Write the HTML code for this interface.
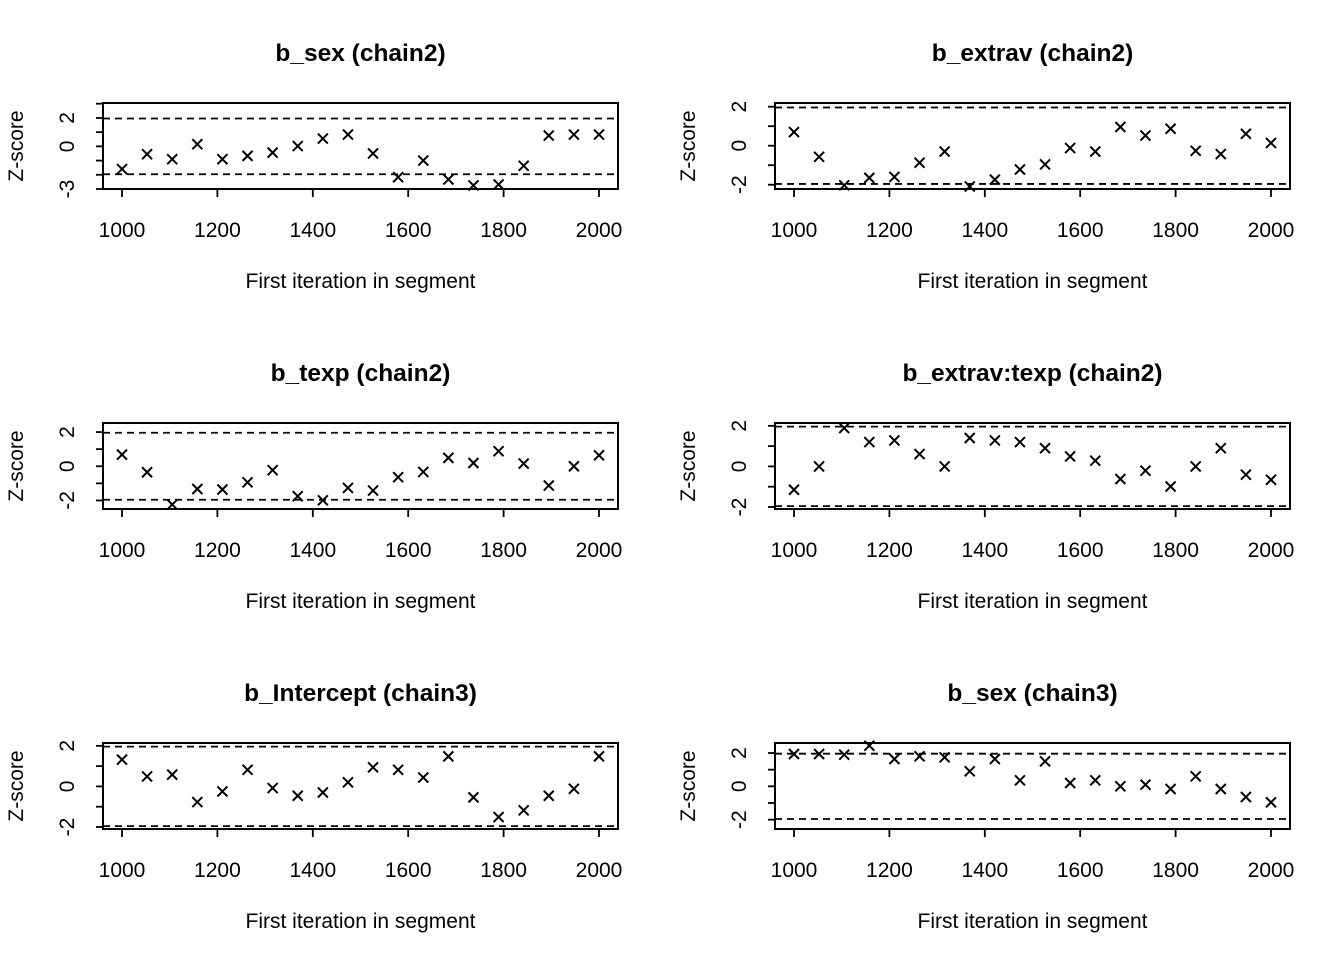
<!DOCTYPE html>
<html><head><meta charset="utf-8"><style>
body{margin:0;background:#fff;}
svg{display:block;font-family:"Liberation Sans",Arial,sans-serif;}
</style></head><body>
<svg id="c" width="1344" height="960" viewBox="0 0 1344 960"></svg>
<script>
const iterations = [1000,1052.6,1105.3,1157.9,1210.5,1263.2,1315.8,1368.4,1421.1,1473.7,1526.3,1578.9,1631.6,1684.2,1736.8,1789.5,1842.1,1894.7,1947.4,2000];
const titles = ["b_sex (chain2)","b_extrav (chain2)","b_texp (chain2)","b_extrav:texp (chain2)","b_Intercept (chain3)","b_sex (chain3)"];
const zSexC2 = [-1.6,-0.55,-0.9,0.15,-0.9,-0.67,-0.44,0.02,0.55,0.83,-0.5,-2.17,-1.0,-2.33,-2.75,-2.68,-1.37,0.76,0.83,0.83];
const zExtravC2 = [0.7,-0.57,-2.03,-1.65,-1.6,-0.87,-0.3,-2.09,-1.74,-1.22,-0.96,-0.12,-0.3,0.96,0.52,0.87,-0.26,-0.43,0.61,0.14];
const zTexpC2 = [0.68,-0.35,-2.24,-1.33,-1.36,-0.94,-0.23,-1.75,-1.99,-1.27,-1.42,-0.64,-0.33,0.49,0.19,0.88,0.16,-1.13,0,0.64];
const zExtravTexpC2 = [-1.15,0,1.89,1.2,1.28,0.61,0,1.4,1.28,1.2,0.9,0.49,0.28,-0.62,-0.21,-0.99,0,0.9,-0.41,-0.66];
const zInterceptC3 = [1.32,0.49,0.58,-0.77,-0.25,0.82,-0.08,-0.46,-0.3,0.2,0.94,0.82,0.44,1.48,-0.54,-1.51,-1.18,-0.46,-0.12,1.48];
const zSexC3 = [1.94,1.94,1.9,2.44,1.64,1.8,1.74,0.9,1.64,0.36,1.5,0.2,0.36,0,0.1,-0.16,0.6,-0.16,-0.64,-0.96];
const yLims = [[-3,3.05],[-2.22,2.19],[-2.5,2.53],[-2.1,2.14],[-2.1,2.14],[-2.56,2.6]];
const yTicks = [[-3,-2,-1,0,1,2,3],[-2,-1,0,1,2],[-2,-1,0,1,2],[-2,-1,0,1,2],[-2,-1,0,1,2],[-2,-1,0,1,2]];
const yTickLabels = [["-3","","","0","","2",""],["-2","","0","","2"],["-2","","0","","2"],["-2","","0","","2"],["-2","","0","","2"],["-2","","0","","2"]];
const xTicks = [1000,1200,1400,1600,1800,2000];
const series = [zSexC2,zExtravC2,zTexpC2,zExtravTexpC2,zInterceptC3,zSexC3];

const NS="http://www.w3.org/2000/svg";
const svg=document.getElementById('c');
function mk(tag,attrs,parent){const e=document.createElementNS(NS,tag);for(const k in attrs)e.setAttribute(k,attrs[k]);(parent||svg).appendChild(e);return e;}

for(let p=0;p<6;p++){
  const col=p%2,row=Math.floor(p/2);
  const bx0=col?775:103,bx1=col?1290:618;
  const by0=[103,423,743][row],by1=by0+86;
  const x0px=col?794:122,x1px=col?1271:599;
  const xs=v=>x0px+(v-1000)/1000*(x1px-x0px);
  const [ymin,ymax]=yLims[p];
  const ys=v=>by1-(v-ymin)/(ymax-ymin)*(by1-by0);
  const g=mk('g',{});
  
  
  const cx=(bx0+bx1)/2;
  const t=mk('text',{x:cx,y:by0-42,'text-anchor':'middle','font-size':'24.5','font-weight':'bold'},g);
  t.textContent=titles[p];
  
  
  [1.96,-1.96].forEach(v=>{
    const l=mk('line',{x1:bx0,x2:bx1,y1:ys(v),y2:ys(v),stroke:'#000','stroke-width':1.8,'stroke-dasharray':'7,5'},g);
    
    
  });
  const box=mk('rect',{x:bx0,y:by0,width:bx1-bx0,height:by1-by0,fill:'none',stroke:'#000','stroke-width':2},g);
  
  
  xTicks.forEach(v=>{
    mk('line',{x1:xs(v),x2:xs(v),y1:by1,y2:by1+8,stroke:'#000','stroke-width':1.8},g);
    const tl=mk('text',{x:xs(v),y:by1+48,'text-anchor':'middle','font-size':'21'},g);
    tl.textContent=v;
    
    
  });
  const xl=mk('text',{x:cx,y:by1+99,'text-anchor':'middle','font-size':'21'},g);
  xl.textContent='First iteration in segment';
  
  
  yTicks[p].forEach((v,i)=>{
    mk('line',{x1:bx0-7,x2:bx0,y1:ys(v),y2:ys(v),stroke:'#000','stroke-width':1.8},g);
    if(yTickLabels[p][i]){
      const yl=mk('text',{x:0,y:0,'text-anchor':'middle','font-size':'21',transform:`translate(${bx0-29},${ys(v)}) rotate(-90)`},g);
      yl.textContent=yTickLabels[p][i];
      
      
    }
  });
  const yt=mk('text',{x:0,y:0,'text-anchor':'middle','font-size':'21',transform:`translate(${bx0-80},${(by0+by1)/2}) rotate(-90)`},g);
  yt.textContent='Z-score';
  
  
  series[p].forEach((v,i)=>{
    const px=xs(iterations[i]),py=ys(v),r=5;
    const m=mk('path',{d:`M${px-r},${py-r}L${px+r},${py+r}M${px-r},${py+r}L${px+r},${py-r}`,stroke:'#000','stroke-width':2,fill:'none'},g);
    
    
  });
}
</script>
</body></html>
